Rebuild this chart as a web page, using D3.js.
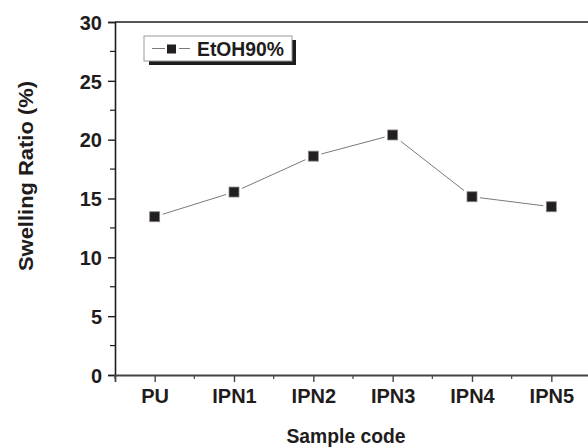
<!DOCTYPE html>
<html><head><meta charset="utf-8">
<script src="https://cdn.jsdelivr.net/npm/d3@7/dist/d3.min.js"></script>
<style>body{margin:0;background:#fff}svg{display:block}</style>
</head><body>
<svg id="c" width="588" height="448"></svg>
<script>
const categories = ["PU","IPN1","IPN2","IPN3","IPN4","IPN5"];
const values = [13.45, 15.55, 18.6, 20.4, 15.15, 14.3];
const yTicks = [0,5,10,15,20,25,30];
const seriesName = "EtOH90%";

const svg = d3.select("#c");
const m = {l:115, t:22, r:591, b:375};
const font = "'Liberation Sans', Arial, Helvetica, sans-serif";
const ink = "#1f1c1d";

const x = d3.scaleLinear().domain([-0.5, categories.length - 0.5]).range([m.l, m.r]);
const y = d3.scaleLinear().domain([0,30]).range([m.b, m.t]);

// frame top
svg.append("line").attr("x1",m.l).attr("x2",m.r).attr("y1",m.t).attr("y2",m.t)
  .attr("stroke",ink).attr("stroke-width",1.6);

// y axis
const ya = svg.append("g").attr("transform",`translate(${m.l},0)`)
  .call(d3.axisLeft(y).tickValues(yTicks).tickSize(7).tickPadding(6).tickFormat(d3.format("d")));
ya.select(".domain").attr("stroke",ink).attr("stroke-width",1.6);
ya.selectAll(".tick line").attr("stroke",ink).attr("stroke-width",1.4);
ya.selectAll("text").attr("font-family",font).attr("font-weight","bold").attr("font-size",20).attr("fill",ink).attr("dy","0.36em");
const yMinor = d3.range(2.5, 30, 5);
svg.append("g").selectAll("line").data(yMinor).join("line")
  .attr("x1",m.l-5).attr("x2",m.l).attr("y1",d=>y(d)).attr("y2",d=>y(d))
  .attr("stroke",ink).attr("stroke-width",1.2);

// x axis
const xa = svg.append("g").attr("transform",`translate(0,${m.b})`)
  .call(d3.axisBottom(x).tickValues(d3.range(categories.length)).tickSize(7).tickPadding(7).tickFormat(i=>categories[i]));
xa.select(".domain").attr("stroke","#444").attr("stroke-width",1.8);
xa.selectAll(".tick line").attr("stroke","#444").attr("stroke-width",1.4);
xa.selectAll("text").attr("font-family",font).attr("font-weight","bold").attr("font-size",20).attr("fill",ink);
const xMinor = d3.range(-0.5, categories.length, 1);
svg.append("g").selectAll("line").data(xMinor).join("line")
  .attr("x1",d=>x(d)).attr("x2",d=>x(d)).attr("y1",m.b).attr("y2",m.b+4)
  .attr("stroke","#444").attr("stroke-width",1.2);

// titles
svg.append("text").attr("transform","translate(33,176) rotate(-90)")
  .attr("text-anchor","middle").attr("font-family",font).attr("font-weight","bold")
  .attr("font-size",21).attr("fill",ink)
  .attr("textLength",190).attr("lengthAdjust","spacingAndGlyphs").text("Swelling Ratio (%)");
svg.append("text").attr("x",346).attr("y",443)
  .attr("text-anchor","middle").attr("font-family",font).attr("font-weight","bold")
  .attr("font-size",20.5).attr("fill",ink)
  .attr("textLength",119).attr("lengthAdjust","spacingAndGlyphs").text("Sample code");

// line
const pts = values.map((v,i)=>[x(i), y(v)]);
svg.append("path").attr("d", d3.line()(pts)).attr("fill","none")
  .attr("stroke","#7a7a7a").attr("stroke-width",1);
// markers with white gap
svg.append("g").selectAll("rect.gap").data(pts).join("rect")
  .attr("x",d=>d[0]-8).attr("y",d=>d[1]-8).attr("width",16).attr("height",16).attr("fill","#fff");
svg.append("g").selectAll("rect.mk").data(pts).join("rect")
  .attr("x",d=>d[0]-5).attr("y",d=>d[1]-5).attr("width",10).attr("height",10)
  .attr("fill","#231f20").attr("stroke","#888").attr("stroke-width",0.8);

// legend
const lg = svg.append("g");
lg.append("rect").attr("x",149).attr("y",40).attr("width",147).attr("height",25).attr("fill",ink);
lg.append("rect").attr("x",144).attr("y",36).attr("width",148).attr("height",25)
  .attr("fill","#fff").attr("stroke","#999").attr("stroke-width",1);
lg.append("line").attr("x1",152).attr("x2",190).attr("y1",48.5).attr("y2",48.5)
  .attr("stroke","#7a7a7a").attr("stroke-width",1);
lg.append("rect").attr("x",165).attr("y",44).attr("width",14).attr("height",9).attr("fill","#fff");
lg.append("rect").attr("x",167).attr("y",44.5).attr("width",9).attr("height",9).attr("fill","#231f20");
lg.append("text").attr("x",197).attr("y",56).attr("font-family",font).attr("font-weight","bold")
  .attr("font-size",19.5).attr("fill",ink)
  .attr("textLength",87).attr("lengthAdjust","spacingAndGlyphs").text(seriesName);
</script>
</body></html>
